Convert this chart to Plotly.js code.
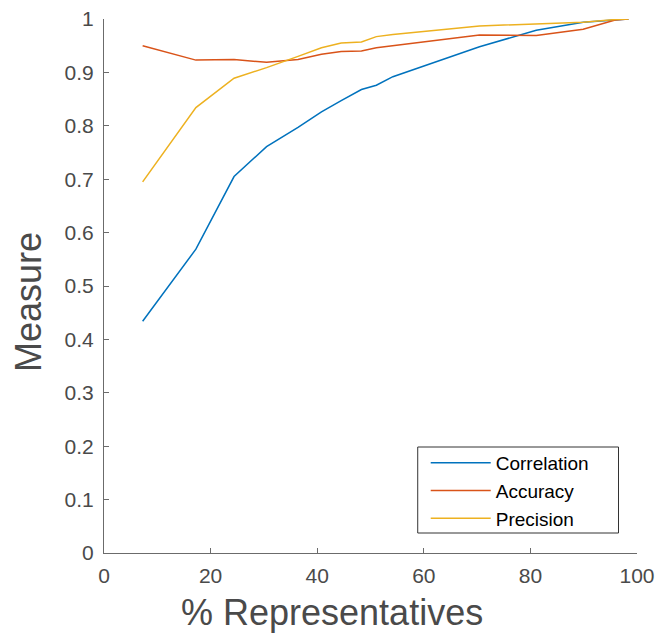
<!DOCTYPE html>
<html>
<head>
<meta charset="utf-8">
<script src="https://cdn.plot.ly/plotly-3.0.1.min.js"></script>
<style>
  html, body { margin: 0; padding: 0; background: #ffffff; }
  #chart { width: 658px; height: 637px; }
</style>
</head>
<body>
<div id="chart"></div>
<script>
const pctRepresentatives = [7.25, 17.24, 24.4, 30.5, 36.4, 40.8, 44.5, 48.3, 51.1, 54.2, 70.45, 81.1, 89.9, 95.9, 98.4];
const correlation = [0.434, 0.569, 0.705, 0.761, 0.797, 0.826, 0.847, 0.868, 0.876, 0.892, 0.948, 0.979, 0.994, 0.999, 1.0];
const accuracy    = [0.950, 0.923, 0.924, 0.919, 0.924, 0.934, 0.939, 0.940, 0.946, 0.950, 0.970, 0.969, 0.981, 0.998, 1.0];
const precision   = [0.695, 0.834, 0.889, 0.909, 0.930, 0.946, 0.955, 0.957, 0.967, 0.971, 0.987, 0.991, 0.994, 0.999, 1.0];
const seriesNames = ["Correlation", "Accuracy", "Precision"];
const seriesColors = ["#0072BD", "#D95319", "#EDB120"];
const xTicks = [0, 20, 40, 60, 80, 100];
const yTicks = [0, 0.1, 0.2, 0.3, 0.4, 0.5, 0.6, 0.7, 0.8, 0.9, 1];
const yTickText = ["0", "0.1", "0.2", "0.3", "0.4", "0.5", "0.6", "0.7", "0.8", "0.9", "1"];
const xTitle = "% Representatives";
const yTitle = "Measure";

const seriesValues = [correlation, accuracy, precision];
const traces = seriesValues.map((vals, i) => ({
  x: pctRepresentatives,
  y: vals,
  type: "scatter",
  mode: "lines",
  name: seriesNames[i],
  line: { color: seriesColors[i], width: 1.5 }
}));

const fontFam = "'Liberation Sans', Arial, sans-serif";
const axisColor = "#6b6b6b";
const textColor = "#4a4a4a";

const layout = {
  width: 658,
  height: 637,
  margin: { l: 104, r: 20.5, t: 19, b: 84 },
  paper_bgcolor: "#ffffff",
  plot_bgcolor: "#ffffff",
  showlegend: true,
  legend: {
    x: 0.6036, y: 0.2041, xanchor: "left", yanchor: "top",
    bgcolor: "rgba(0,0,0,0)",
    borderwidth: 0,
    font: { family: fontFam, size: 19, color: "#000000" },
    tracegroupgap: 0,
    itemwidth: 60
  },
  shapes: [
    {
      type: "rect", xref: "paper", yref: "paper",
      x0: 0.5886, x1: 0.9653, y0: 0.03745, y1: 0.1985,
      line: { color: "#333333", width: 1 },
      fillcolor: "#ffffff",
      layer: "above"
    }
  ],
  xaxis: {
    range: [0, 100],
    tickvals: xTicks,
    ticktext: xTicks.map(String),
    ticks: "inside",
    ticklen: 5,
    tickcolor: axisColor,
    showline: true,
    linecolor: axisColor,
    linewidth: 1,
    showgrid: false,
    zeroline: false,
    ticklabelstandoff: 4,
    tickfont: { family: fontFam, size: 21, color: textColor }
  },
  yaxis: {
    range: [0, 1],
    tickvals: yTicks,
    ticktext: yTickText,
    ticks: "inside",
    ticklen: 5,
    tickcolor: axisColor,
    showline: true,
    linecolor: axisColor,
    linewidth: 1,
    showgrid: false,
    zeroline: false,
    ticklabelstandoff: 5,
    tickfont: { family: fontFam, size: 21, color: textColor }
  },
  annotations: [
    {
      text: xTitle, xref: "paper", yref: "paper",
      x: 0.4274, y: -0.1105, xanchor: "center", yanchor: "middle",
      showarrow: false,
      font: { family: fontFam, size: 36, color: textColor }
    },
    {
      text: yTitle, xref: "paper", yref: "paper",
      x: -0.1425, y: 0.470, xanchor: "center", yanchor: "middle",
      textangle: -90, showarrow: false,
      font: { family: fontFam, size: 36, color: textColor }
    }
  ]
};

Plotly.newPlot("chart", traces, layout, { displayModeBar: false, staticPlot: true });
</script>
</body>
</html>
